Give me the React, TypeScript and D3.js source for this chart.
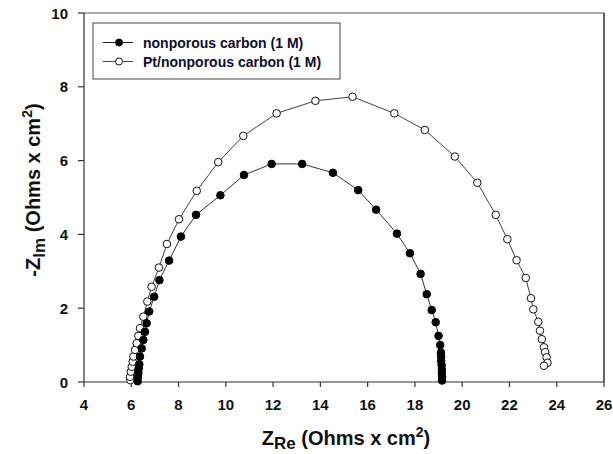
import React from "react";
import * as d3 from "d3";

const nonporousX = [6.27, 6.28, 6.3, 6.32, 6.34, 6.37, 6.44, 6.51, 6.58, 6.65, 6.76, 6.97, 7.19, 7.6, 8.1, 8.74, 9.77, 10.77, 11.94, 13.23, 14.53, 15.6, 16.36, 17.24, 17.79, 18.24, 18.5, 18.71, 18.88, 19.0, 19.07, 19.1, 19.11, 19.11, 19.13, 19.14, 19.14, 19.15, 19.15];
const nonporousY = [0.02, 0.13, 0.25, 0.37, 0.48, 0.69, 0.91, 1.14, 1.36, 1.59, 1.91, 2.31, 2.76, 3.29, 3.94, 4.53, 5.06, 5.61, 5.91, 5.91, 5.67, 5.2, 4.67, 4.02, 3.49, 2.93, 2.38, 1.95, 1.62, 1.25, 1.0, 0.8, 0.69, 0.57, 0.46, 0.34, 0.24, 0.14, 0.04];

const ptX = [5.96, 5.95, 5.98, 6.02, 6.06, 6.09, 6.16, 6.23, 6.3, 6.37, 6.51, 6.68, 6.86, 7.17, 7.51, 8.02, 8.77, 9.68, 10.74, 12.15, 13.79, 15.36, 17.13, 18.42, 19.69, 20.64, 21.42, 21.91, 22.3, 22.69, 22.91, 23.01, 23.22, 23.29, 23.37, 23.46, 23.51, 23.57, 23.61, 23.46];
const ptY = [0.05, 0.14, 0.28, 0.41, 0.55, 0.69, 0.87, 1.05, 1.25, 1.46, 1.77, 2.18, 2.58, 3.1, 3.74, 4.41, 5.18, 5.96, 6.67, 7.28, 7.62, 7.73, 7.28, 6.83, 6.11, 5.4, 4.53, 3.87, 3.3, 2.82, 2.27, 1.97, 1.63, 1.39, 1.16, 0.94, 0.81, 0.67, 0.52, 0.44];

const xTicks = [4, 6, 8, 10, 12, 14, 16, 18, 20, 22, 24, 26];
const yTicks = [0, 2, 4, 6, 8, 10];
const seriesNames = ["nonporous carbon (1 M)", "Pt/nonporous carbon (1 M)"];

const W = 613;
const H = 454;
const L = 84, R = 604, T = 13, B = 382;
const FONT = "'Liberation Sans', Arial, sans-serif";

export default function App() {
  const x = d3.scaleLinear().domain([4, 26]).range([L, R]);
  const y = d3.scaleLinear().domain([0, 10]).range([B, T]);
  const line = d3.line<[number, number]>().x((d) => x(d[0])).y((d) => y(d[1]));
  const s1 = nonporousX.map((v, i) => [v, nonporousY[i]] as [number, number]);
  const s2 = ptX.map((v, i) => [v, ptY[i]] as [number, number]);
  const r = 3.8;

  return (
    <svg width={W} height={H} style={{ position: "absolute", left: 0, top: 0, background: "#fff" }} fontFamily={FONT}>
      <rect x={0} y={0} width={W} height={H} fill="#fff" />
      {/* frame */}
      <line x1={L} y1={T} x2={R} y2={T} stroke="#555" strokeWidth={1.2} />
      <line x1={R} y1={T} x2={R} y2={B} stroke="#222" strokeWidth={1.4} />
      <line x1={L} y1={T} x2={L} y2={B} stroke="#333" strokeWidth={1.2} />
      <line x1={L} y1={B} x2={R} y2={B} stroke="#333" strokeWidth={1.2} />
      {xTicks.map((t) => (
        <g key={"x" + t}>
          <line x1={x(t)} x2={x(t)} y1={B} y2={B + 5} stroke="#333" strokeWidth={1.2} />
          <text x={x(t)} y={410} textAnchor="middle" fontSize={15} fontWeight="bold" fill="#111">{t}</text>
        </g>
      ))}
      {yTicks.map((t) => (
        <g key={"y" + t}>
          <line x1={L - 6} x2={L} y1={y(t)} y2={y(t)} stroke="#333" strokeWidth={1.2} />
          <text x={68} y={y(t) + 5.5} textAnchor="end" fontSize={15} fontWeight="bold" fill="#111">{t}</text>
        </g>
      ))}
      {/* axis titles */}
      <text x={346} y={445} textAnchor="middle" fontSize={20} fontWeight="bold" fill="#111">
        Z<tspan fontSize={17} dy={4}>Re</tspan><tspan dy={-4}> (Ohms x cm</tspan><tspan fontSize={14} dy={-8}>2</tspan><tspan dy={8}>)</tspan>
      </text>
      <text transform="translate(40,190) rotate(-90)" textAnchor="middle" fontSize={20} fontWeight="bold" fill="#111">
        -Z<tspan fontSize={17} dy={5}>Im</tspan><tspan dy={-5}> (Ohms x cm</tspan><tspan fontSize={14} dy={-8}>2</tspan><tspan dy={8}>)</tspan>
      </text>
      {/* series */}
      <path d={line(s1) || ""} fill="none" stroke="#333" strokeWidth={1} />
      <path d={line(s2) || ""} fill="none" stroke="#444" strokeWidth={1} />
      {s2.map((d, i) => (
        <circle key={"b" + i} cx={x(d[0])} cy={y(d[1])} r={r} fill="#fff" stroke="#111" strokeWidth={1} />
      ))}
      {s1.map((d, i) => (
        <circle key={"a" + i} cx={x(d[0])} cy={y(d[1])} r={r} fill="#000" stroke="#000" strokeWidth={1} />
      ))}
      {/* legend */}
      <rect x={93} y={23} width={247} height={56} fill="#fff" stroke="#444" strokeWidth={1} />
      <line x1={103} x2={133} y1={42.5} y2={42.5} stroke="#222" strokeWidth={1} />
      <circle cx={119} cy={42.5} r={3.5} fill="#000" stroke="#000" />
      <text x={143} y={47.5} fontSize={14} fontWeight="bold" fill="#0d0d2b">{seriesNames[0]}</text>
      <line x1={103} x2={133} y1={61.5} y2={61.5} stroke="#444" strokeWidth={1} />
      <circle cx={119} cy={61.5} r={3.5} fill="#fff" stroke="#111" />
      <text x={143} y={66.5} fontSize={14} fontWeight="bold" fill="#0d0d2b">{seriesNames[1]}</text>
    </svg>
  );
}
